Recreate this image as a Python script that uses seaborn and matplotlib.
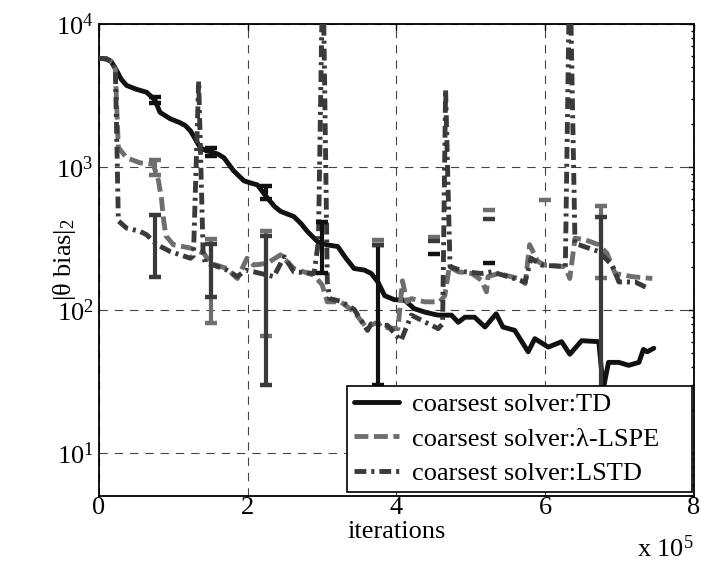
import numpy as np
import pandas as pd
import matplotlib
matplotlib.use("Agg")
import matplotlib.pyplot as plt
import seaborn as sns
from matplotlib.ticker import LogLocator, FixedLocator, NullFormatter, LogFormatterMathtext

# ---------------- data (x in units of 1e5 iterations) ----------------
td_x = [0.00, 0.10, 0.16, 0.22, 0.30, 0.37, 0.50, 0.64, 0.75, 0.82, 0.96, 1.08, 1.16, 1.23,
        1.30, 1.36, 1.44, 1.50, 1.60, 1.68, 1.81, 1.95, 2.05, 2.13, 2.26, 2.36, 2.44, 2.55,
        2.62, 2.72, 2.80, 2.94, 3.07, 3.21, 3.32, 3.43, 3.57, 3.66, 3.75, 3.84, 3.97, 4.11,
        4.24, 4.40, 4.56, 4.74, 4.83, 4.92, 5.05, 5.19, 5.34, 5.43, 5.59, 5.77, 5.86, 6.04,
        6.22, 6.33, 6.49, 6.72, 6.78, 6.85, 6.99, 7.12, 7.26, 7.32, 7.37, 7.46]
td_y = [5760, 5700, 5500, 4900, 4100, 3720, 3500, 3330, 2950, 2410, 2170, 2050, 1950, 1790,
        1550, 1370, 1300, 1280, 1230, 1160, 940, 800, 770, 750, 610, 530, 490, 465,
        450, 400, 355, 300, 285, 278, 230, 195, 190, 180, 157, 126, 118, 117,
        102, 96, 92, 92, 82, 89, 89, 76, 94, 76, 72, 51, 63, 55,
        60, 49, 61, 60, 28, 43, 43, 41, 43, 53, 51, 54]

lspe_x = [0.00, 0.10, 0.18, 0.22, 0.24, 0.26, 0.37, 0.55, 0.73, 0.80, 0.84, 0.87, 0.90, 1.00,
          1.23, 1.41, 1.50, 1.72, 1.86, 1.99, 2.08, 2.26, 2.44, 2.62, 2.89, 3.00, 3.07, 3.25,
          3.43, 3.59, 3.75, 3.79, 4.02, 4.08, 4.14, 4.20, 4.38, 4.58, 4.65, 4.71, 4.83, 5.01,
          5.14, 5.21, 5.23, 5.37, 5.64, 5.73, 5.79, 5.90, 6.00, 6.27, 6.33, 6.40, 6.54, 6.72,
          6.83, 6.94, 7.17, 7.44]
lspe_y = [5760, 5700, 5400, 4800, 2500, 1370, 1160, 1070, 1045, 800, 600, 420, 330, 286,
          271, 249, 212, 195, 166, 230, 206, 212, 243, 195, 175, 150, 114, 114,
          97, 76, 82, 76, 74, 160, 114, 120, 114, 114, 126, 201, 185, 180,
          162, 134, 171, 180, 166, 153, 286, 218, 206, 201, 166, 318, 309, 286,
          249, 180, 171, 166]

lstd_x = [0.00, 0.10, 0.18, 0.22, 0.24, 0.26, 0.37, 0.55, 0.64, 0.78, 0.96, 1.23, 1.27, 1.34,
          1.40, 1.43, 1.54, 1.72, 1.86, 1.97, 2.08, 2.35, 2.49, 2.62, 2.89, 2.95, 3.01, 3.07,
          3.10, 3.25, 3.43, 3.61, 3.66, 3.88, 4.06, 4.20, 4.56, 4.62, 4.66, 4.72, 4.92, 5.14,
          5.28, 5.50, 5.73, 5.81, 5.95, 6.27, 6.33, 6.40, 6.45, 6.72, 6.90, 6.99, 7.21, 7.39]
lstd_y = [5760, 5700, 5400, 4800, 1500, 420, 374, 355, 336, 286, 256, 230, 240, 4000,
          250, 212, 206, 190, 171, 190, 185, 171, 236, 185, 180, 300, 30000, 157,
          120, 115, 101, 72, 80, 78, 61, 92, 74, 80, 3500, 201, 185, 180,
          185, 171, 157, 230, 206, 201, 30000, 290, 286, 256, 206, 157, 157, 141]

# error bars (lower / upper ends; nan lower = only the upper cap is visible)
err_x = [0.75, 1.50, 2.25, 3.00, 3.75, 4.50, 5.25, 6.00, 6.75]
td_lo = [2800, 1200, 595, 180, 30, np.nan, np.nan, np.nan, np.nan]
td_hi = [3100, 1350, 735, 415, 284, 245, 212, np.nan, np.nan]
lspe_lo = [880, 81, 66, np.nan, np.nan, np.nan, np.nan, np.nan, 166]
lspe_hi = [1120, 316, 358, np.nan, 310, 325, 500, 590, 535]
lstd_lo = [171, 124, 30, np.nan, np.nan, np.nan, np.nan, np.nan, 28]
lstd_hi = [459, 288, 330, np.nan, 287, 305, 433, np.nan, 450]

labels = ["coarsest solver:TD", "coarsest solver:\u03bb-LSPE", "coarsest solver:LSTD"]
xticks = [0, 2, 4, 6, 8]

# ---------------- style ----------------
sns.set_theme(style="white", rc={"text.color": "black", "axes.labelcolor": "black",
                                 "xtick.color": "black", "ytick.color": "black",
                                 "axes.edgecolor": "black"})
plt.rcParams["font.family"] = ["Liberation Serif", "DejaVu Serif"]
plt.rcParams["mathtext.fontset"] = "custom"
plt.rcParams["mathtext.rm"] = "Liberation Serif"
plt.rcParams["mathtext.it"] = "Liberation Serif:italic"
plt.rcParams["mathtext.bf"] = "Liberation Serif:bold"
plt.rcParams["lines.scale_dashes"] = False

FS = 19
colors = ["#111111", "#6e6e6e", "#3a3a3a"]
styles = ["-", (0, (10, 4)), (0, (8.5, 3.6, 2.2, 3.6))]
LW = 3.5

fig = plt.figure(figsize=(7.01, 5.64), dpi=100)
ax = fig.add_axes([99 / 701, 1 - 496 / 564, (694 - 99) / 701, (496 - 24) / 564])

series = [(td_x, td_y, td_lo, td_hi), (lspe_x, lspe_y, lspe_lo, lspe_hi),
          (lstd_x, lstd_y, lstd_lo, lstd_hi)]
for (sx, sy, lo, hi), c, ls, lab in zip(series, colors, styles, labels):
    df = pd.DataFrame({"x": sx, "y": sy})
    sns.lineplot(data=df, x="x", y="y", ax=ax, color=c, linewidth=LW, linestyle=ls,
                 label=lab, estimator=None, sort=False, zorder=3)
    ex = np.array(err_x)
    lo = np.array(lo, dtype=float)
    hi = np.array(hi, dtype=float)
    full = ~np.isnan(lo) & ~np.isnan(hi)
    ax.vlines(ex[full], lo[full], hi[full], colors=c, linewidth=3.0, zorder=4)
    ax.plot(ex[full], lo[full], ls="none", marker="_", ms=8, mew=3.2, color=c, zorder=4)
    top = ~np.isnan(hi)
    ax.plot(ex[top], hi[top], ls="none", marker="_", ms=8, mew=3.2, color=c, zorder=4)

ax.set_yscale("log")
ax.set_xlim(0, 8)
ax.set_ylim(5, 1e4)
ax.xaxis.set_major_locator(FixedLocator(xticks))
ax.set_xticklabels([str(t) for t in xticks])
ax.yaxis.set_major_locator(LogLocator(base=10, numticks=10))
ax.yaxis.set_major_formatter(LogFormatterMathtext())
ax.yaxis.set_minor_locator(LogLocator(base=10, subs=np.arange(2, 10), numticks=20))
ax.yaxis.set_minor_formatter(NullFormatter())

ax.tick_params(which="both", direction="in", top=True, right=True, labelsize=FS, width=1.0)
ax.tick_params(which="major", length=4.5)
ax.tick_params(which="minor", length=2.5)
ax.tick_params(axis="x", pad=1)
ax.tick_params(axis="y", pad=4)

ax.grid(True, which="major", color="#444444", linewidth=0.8, linestyle=(0, (6, 5)))
ax.set_axisbelow(True)
for sp in ax.spines.values():
    sp.set_linewidth(1.3)
    sp.set_color("black")

ax.set_xlabel("iterations", fontsize=FS, labelpad=1)
ax.set_ylabel(r"|θ bias$|_2$", fontsize=FS)
ax.yaxis.set_label_coords(-0.035, 0.5)
fig.text(0.99, 1 - 549 / 564, r"x $\mathdefault{10^{5}}$", ha="right", va="center", fontsize=FS)

x0 = (347 - 99) / 595
w = (692 - 347) / 595
y0 = (496 - 492) / 472
leg = ax.legend(loc="lower left", bbox_to_anchor=(x0, y0, w, 0.2), mode="expand",
                frameon=True, fancybox=False, edgecolor="black", framealpha=1,
                borderaxespad=0, handlelength=1.7, handletextpad=0.5,
                labelspacing=0.42, borderpad=0.26, fontsize=FS)
leg.get_frame().set_linewidth(1.2)

fig.savefig("out.png", dpi=100)
